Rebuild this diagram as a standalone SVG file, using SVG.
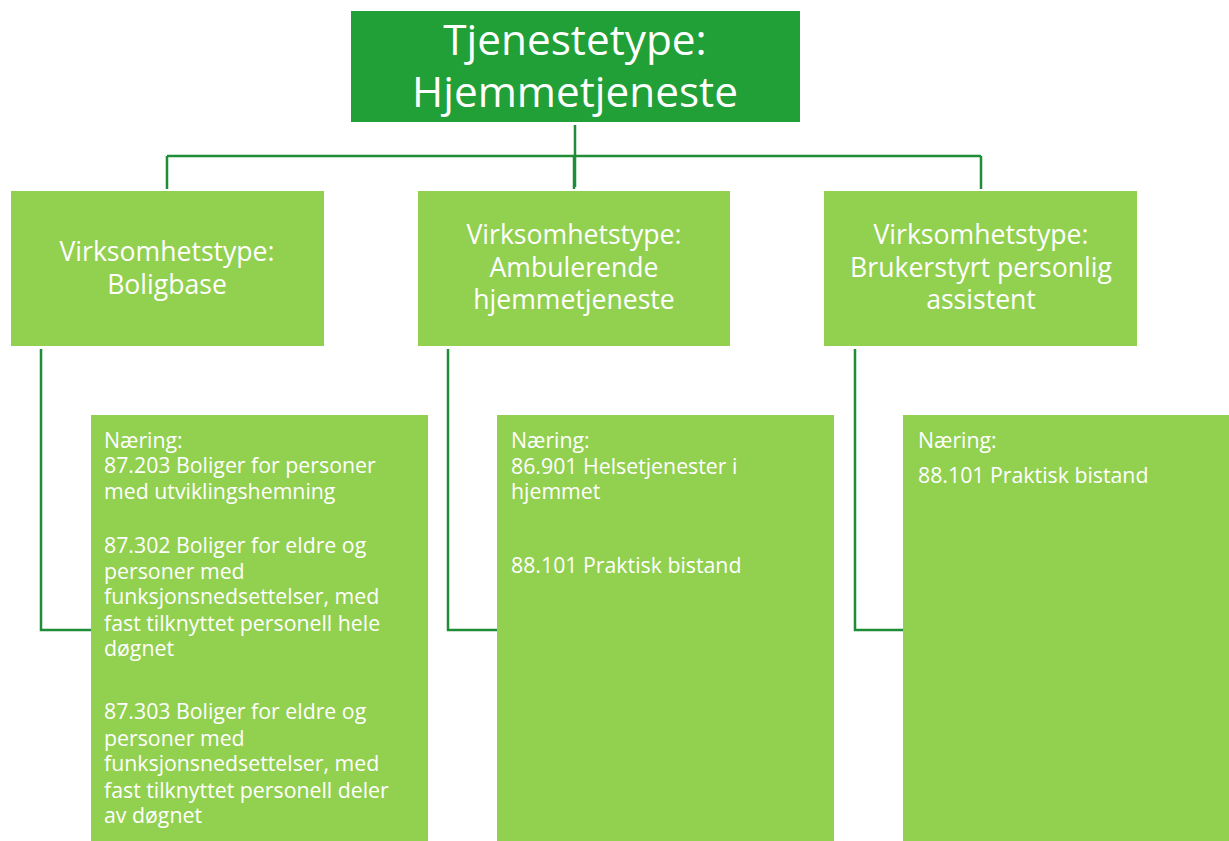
<svg xmlns="http://www.w3.org/2000/svg" width="1229" height="841" viewBox="0 0 1229 841">
<style>
.top{fill:#21a038}
.mid{fill:#92d050}
.leaf{fill:#92d050}
.t{font-family:"Open Sans","Liberation Sans",sans-serif;fill:#ffffff}
.tt{font-size:42.3px;text-anchor:middle}
.tm{font-size:26.6px;text-anchor:middle}
.tl{font-size:21.3px}
.c{fill:none;stroke:#1f8c36;stroke-width:2.5}
</style>
<rect width="1229" height="841" fill="#ffffff"/>
<g id="connectors">
<path class="c" d="M575 125V187M167 156H981M167 156V189M574 156V189M981 156V189"/>
<path class="c" d="M41 349V630H91"/>
<path class="c" d="M448 349V630H497"/>
<path class="c" d="M855 349V630H903"/>
</g>
<g id="n-top">
<rect class="top" x="351" y="11" width="449" height="111"/>
<text class="t tt" x="575" y="55">Tjenestetype:</text>
<text class="t tt" x="575" y="107">Hjemmetjeneste</text>
</g>
<g id="n-boligbase">
<rect class="mid" x="11" y="191" width="313" height="155"/>
<text class="t tm" x="167" y="261">Virksomhetstype:</text>
<text class="t tm" x="167" y="294">Boligbase</text>
</g>
<g id="n-ambulerende">
<rect class="mid" x="418" y="191" width="312" height="155"/>
<text class="t tm" x="574" y="244">Virksomhetstype:</text>
<text class="t tm" x="574" y="277">Ambulerende</text>
<text class="t tm" x="574" y="309">hjemmetjeneste</text>
</g>
<g id="n-bpa">
<rect class="mid" x="824" y="191" width="313" height="155"/>
<text class="t tm" x="981" y="244">Virksomhetstype:</text>
<text class="t tm" x="981" y="277">Brukerstyrt personlig</text>
<text class="t tm" x="981" y="309">assistent</text>
</g>
<g id="n-naering-1">
<rect class="leaf" x="91" y="415" width="337" height="426"/>
<text class="t tl" x="104" y="448">Næring:</text>
<text class="t tl" x="104" y="473">87.203 Boliger for personer</text>
<text class="t tl" x="104" y="499">med utviklingshemning</text>
<text class="t tl" x="104" y="553">87.302 Boliger for eldre og</text>
<text class="t tl" x="104" y="579">personer med</text>
<text class="t tl" x="104" y="604">funksjonsnedsettelser, med</text>
<text class="t tl" x="104" y="631">fast tilknyttet personell hele</text>
<text class="t tl" x="104" y="656">døgnet</text>
<text class="t tl" x="104" y="719">87.303 Boliger for eldre og</text>
<text class="t tl" x="104" y="746">personer med</text>
<text class="t tl" x="104" y="771">funksjonsnedsettelser, med</text>
<text class="t tl" x="104" y="798">fast tilknyttet personell deler</text>
<text class="t tl" x="104" y="823">av døgnet</text>
</g>
<g id="n-naering-2">
<rect class="leaf" x="497" y="415" width="337" height="426"/>
<text class="t tl" x="511" y="448">Næring:</text>
<text class="t tl" x="511" y="474">86.901 Helsetjenester i</text>
<text class="t tl" x="511" y="499">hjemmet</text>
<text class="t tl" x="511" y="573">88.101 Praktisk bistand</text>
</g>
<g id="n-naering-3">
<rect class="leaf" x="903" y="415" width="326" height="426"/>
<text class="t tl" x="918" y="448">Næring:</text>
<text class="t tl" x="918" y="483">88.101 Praktisk bistand</text>
</g>
</svg>
